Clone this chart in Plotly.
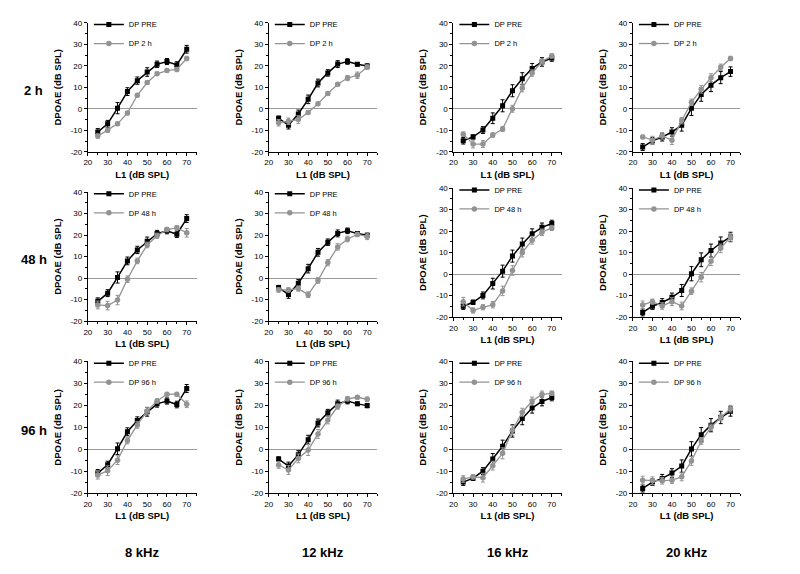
import plotly.graph_objects as go

# ---------------- data ----------------
x_L1 = [25, 30, 35, 40, 45, 50, 55, 60, 65, 70]

x_tick_vals = [20, 30, 40, 50, 60, 70]
x_tick_text = ["20", "30", "40", "50", "60", "70"]
y_tick_vals = [-20, -10, 0, 10, 20, 30, 40]
y_tick_text = ["-20", "-10", "0", "10", "20", "30", "40"]

freqs = ["8 kHz", "12 kHz", "16 kHz", "20 kHz"]
times = ["2 h", "48 h", "96 h"]

# DP PRE (baseline), same in every row
pre_8k = [-10.8, -7.0, 0.3, 8.0, 13.1, 17.1, 20.7, 22.0, 20.4, 27.7]
pre_12k = [-4.4, -7.6, -2.4, 4.4, 12.0, 16.7, 20.8, 22.0, 20.7, 19.9]
pre_16k = [-14.9, -13.1, -9.9, -4.4, 1.4, 8.4, 14.0, 18.8, 21.8, 23.6]
pre_20k = [-17.8, -14.9, -13.2, -10.8, -7.6, 0.2, 6.7, 11.0, 14.5, 17.3]

pre_err_8k = [1.6, 1.6, 2.6, 1.8, 1.7, 2.0, 1.5, 1.4, 1.5, 1.8]
pre_err_12k = [1.0, 1.8, 1.8, 2.0, 1.8, 1.5, 1.6, 1.3, 0.8, 1.0]
pre_err_16k = [1.5, 1.0, 1.6, 2.5, 2.8, 2.8, 2.8, 2.3, 2.0, 1.5]
pre_err_20k = [1.6, 1.5, 1.8, 2.0, 2.8, 3.3, 3.2, 3.0, 2.8, 2.2]

# DP 2 h
post2_8k = [-12.7, -10.0, -7.0, -2.0, 6.3, 12.2, 16.3, 17.8, 18.3, 23.4]
post2_12k = [-6.5, -5.8, -5.0, -1.7, 2.3, 7.1, 11.4, 14.3, 15.6, 19.4]
post2_16k = [-11.8, -16.4, -16.4, -12.2, -9.4, 0.0, 9.7, 16.6, 22.0, 24.6]
post2_20k = [-13.1, -14.6, -12.6, -14.6, -5.5, 3.0, 9.1, 14.5, 19.3, 23.4]

post2_err_8k = [1.0, 1.0, 0.8, 0.8, 0.8, 0.8, 0.8, 0.8, 1.0, 1.0]
post2_err_12k = [1.5, 1.5, 1.8, 0.8, 0.8, 0.8, 0.8, 1.2, 1.5, 1.0]
post2_err_16k = [1.0, 1.8, 1.6, 1.0, 1.2, 1.6, 1.8, 1.5, 1.2, 1.0]
post2_err_20k = [0.8, 1.8, 1.5, 2.0, 1.5, 1.5, 1.8, 1.8, 1.5, 1.0]

# DP 48 h
post48_8k = [-12.5, -12.8, -10.2, -0.5, 8.0, 15.4, 19.7, 22.6, 23.4, 21.1]
post48_12k = [-5.5, -5.5, -4.9, -7.7, -1.1, 7.2, 14.5, 18.2, 20.3, 19.4]
post48_16k = [-12.8, -16.9, -15.4, -14.2, -7.8, 1.7, 10.0, 15.8, 19.5, 21.5]
post48_20k = [-14.3, -12.8, -14.8, -12.8, -14.8, -7.9, -1.4, 6.0, 12.0, 17.2]

post48_err_8k = [1.8, 2.0, 2.2, 1.5, 1.3, 1.3, 1.2, 1.0, 1.0, 2.0]
post48_err_12k = [1.0, 1.0, 1.2, 1.3, 1.3, 1.5, 1.5, 1.3, 1.0, 1.5]
post48_err_16k = [2.0, 1.2, 1.2, 1.5, 2.2, 2.2, 2.0, 1.8, 1.5, 1.2]
post48_err_20k = [1.8, 1.2, 1.5, 1.8, 1.8, 1.5, 2.2, 2.0, 2.0, 1.8]

# DP 96 h
post96_8k = [-11.7, -9.7, -4.9, 4.0, 11.1, 17.5, 22.0, 25.1, 25.1, 20.5]
post96_12k = [-7.1, -9.4, -4.1, -0.3, 7.0, 13.4, 19.5, 23.0, 23.7, 22.8]
post96_16k = [-13.5, -12.5, -12.9, -7.4, -1.8, 8.7, 16.9, 22.0, 25.0, 25.5]
post96_20k = [-14.0, -14.3, -14.3, -14.0, -12.5, -5.3, 3.8, 10.0, 14.5, 18.5]

post96_err_8k = [1.8, 2.2, 2.0, 1.5, 1.5, 1.5, 1.0, 0.8, 0.8, 1.5]
post96_err_12k = [1.5, 2.0, 2.0, 2.5, 2.0, 1.8, 1.2, 1.0, 0.8, 1.0]
post96_err_16k = [1.5, 1.0, 2.0, 2.0, 2.5, 2.2, 1.8, 1.8, 1.5, 1.0]
post96_err_20k = [1.8, 1.8, 1.5, 1.5, 1.8, 2.0, 1.5, 1.5, 1.5, 1.5]

pre_all = [pre_8k, pre_12k, pre_16k, pre_20k]
pre_err_all = [pre_err_8k, pre_err_12k, pre_err_16k, pre_err_20k]
post_all = [
    [post2_8k, post2_12k, post2_16k, post2_20k],
    [post48_8k, post48_12k, post48_16k, post48_20k],
    [post96_8k, post96_12k, post96_16k, post96_20k],
]
post_err_all = [
    [post2_err_8k, post2_err_12k, post2_err_16k, post2_err_20k],
    [post48_err_8k, post48_err_12k, post48_err_16k, post48_err_20k],
    [post96_err_8k, post96_err_12k, post96_err_16k, post96_err_20k],
]

# ---------------- layout geometry (pixels) ----------------
W, H = 800, 574
SX = 0.93
col_src = [(82, 199.5), (277.5, 394.5), (477, 594), (671, 787)]
col_px = [(a * SX, b * SX) for a, b in col_src]
row_px = [
    [(11, 142), (11, 142), (11, 142), (11, 142)],
    [(183, 314), (183, 314), (179, 310), (179, 310)],
    [(355, 489), (355, 489), (355, 489), (355, 489)],
]

FONT = "Arial, Liberation Sans, Helvetica, sans-serif"
BLACK = "#000000"
GRAY = "#939393"

fig = go.Figure()
layout = dict(
    width=W, height=H,
    margin=dict(l=0, r=0, t=0, b=0),
    paper_bgcolor="white", plot_bgcolor="white",
    font=dict(family=FONT, size=8, color="black"),
    annotations=[],
)

k = 0
for r in range(3):
    for c in range(4):
        k += 1
        s = "" if k == 1 else str(k)
        leg = "legend" + s
        x0, x1 = col_px[c]
        yt, yb = row_px[r][c]
        fig.add_trace(go.Scatter(
            x=x_L1, y=pre_all[c], name="DP PRE",
            mode="lines+markers",
            line=dict(color=BLACK, width=1.5),
            marker=dict(symbol="square", size=5, color=BLACK),
            error_y=dict(type="data", array=pre_err_all[c], color=BLACK,
                         thickness=1, width=2),
            xaxis="x" + s, yaxis="y" + s, legend=leg,
        ))
        fig.add_trace(go.Scatter(
            x=x_L1, y=post_all[r][c], name="DP " + times[r],
            mode="lines+markers",
            line=dict(color=GRAY, width=1.3),
            marker=dict(symbol="circle", size=5.5, color=GRAY),
            error_y=dict(type="data", array=post_err_all[r][c], color=GRAY,
                         thickness=1, width=2),
            xaxis="x" + s, yaxis="y" + s, legend=leg,
        ))
        layout["xaxis" + s] = dict(
            domain=[x0 / W, x1 / W], anchor="y" + s,
            range=[20, 75], tickvals=x_tick_vals, ticktext=x_tick_text,
            showline=True, linecolor="black", linewidth=1,
            ticks="outside", ticklen=3, tickwidth=1, tickcolor="black",
            minor=dict(tickvals=[25, 35, 45, 55, 65, 75], ticks="outside",
                       ticklen=2, tickcolor="black"),
            showgrid=False, zeroline=False,
            tickfont=dict(size=8, family=FONT),
            title=dict(text="L1 (dB SPL)", standoff=4,
                       font=dict(size=9.5, family=FONT, weight=700)),
        )
        layout["yaxis" + s] = dict(
            domain=[1 - yb / H, 1 - yt / H], anchor="x" + s,
            range=[-20, 40], tickvals=y_tick_vals, ticktext=y_tick_text,
            showline=True, linecolor="black", linewidth=1,
            ticks="outside", ticklen=3, tickwidth=1, tickcolor="black",
            minor=dict(dtick=5, ticks="outside", ticklen=2, tickcolor="black"),
            showgrid=False, zeroline=True, zerolinecolor="#9a9a9a",
            zerolinewidth=1,
            tickfont=dict(size=8, family=FONT),
            title=dict(text="DPOAE (dB SPL)", standoff=7,
                       font=dict(size=9.5, family=FONT, weight=700)),
        )
        layout[leg] = dict(
            x=(x0 + 1) / W, y=1 - (yt - 13) / H,
            xanchor="left", yanchor="top",
            bgcolor="rgba(0,0,0,0)", borderwidth=0,
            font=dict(size=7.5, family=FONT),
            itemwidth=30, tracegroupgap=0,
        )

# row labels
for r in range(3):
    yt, yb = row_px[r][0]
    layout["annotations"].append(dict(
        text=times[r], x=22 / W, y=1 - ((yt + yb) / 2 + 3) / H,
        xref="paper", yref="paper", showarrow=False,
        xanchor="center", yanchor="middle",
        font=dict(size=13, family=FONT, weight=700),
    ))
# column labels
for c in range(4):
    x0, x1 = col_px[c]
    layout["annotations"].append(dict(
        text=freqs[c], x=(x0 + x1) / 2 / W, y=1 - 549 / H,
        xref="paper", yref="paper", showarrow=False,
        xanchor="center", yanchor="middle",
        font=dict(size=13, family=FONT, weight=700),
    ))

fig.update_layout(**layout)
fig.write_html("out.html")
